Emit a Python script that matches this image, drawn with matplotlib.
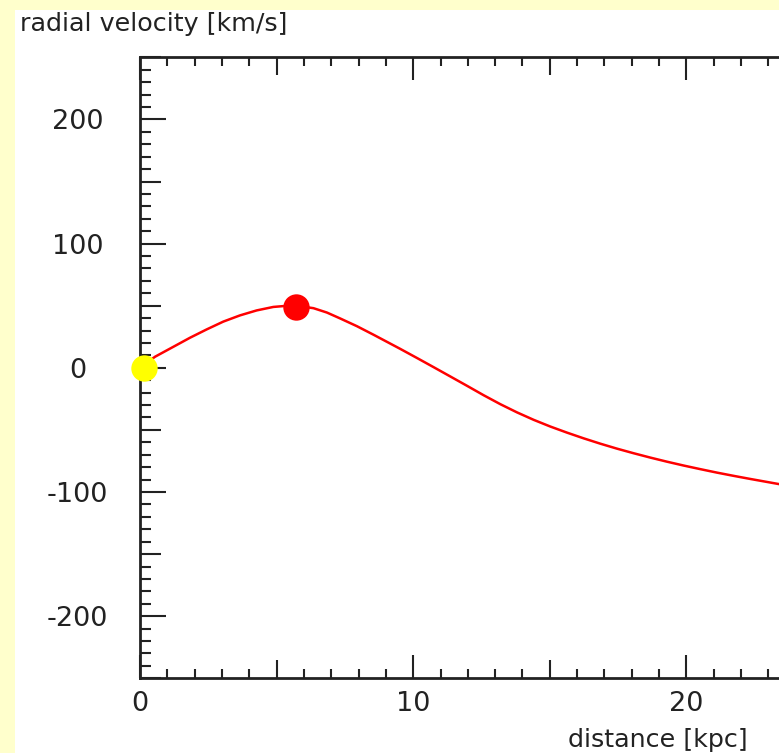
import matplotlib
matplotlib.use("Agg")
import matplotlib.pyplot as plt
from matplotlib.patches import Rectangle
from matplotlib.ticker import MultipleLocator, FuncFormatter

# rotation curve (distance in kpc, radial velocity in km/s)
distance = [0.0, 0.55, 1.22, 1.83, 2.44, 3.05, 3.66, 4.27, 4.88, 5.37, 5.85,
            6.35, 6.84, 7.33, 7.94, 8.55, 9.16, 9.52, 10.13, 10.74, 11.36,
            11.97, 12.58, 13.19, 13.80, 14.41, 15.02, 15.63, 16.24, 16.85,
            17.46, 18.07, 18.68, 19.29, 19.90, 20.51, 21.12, 21.73, 22.34,
            22.95, 23.38]
velocity = [0.0, 8.9, 16.9, 24.2, 30.9, 37.2, 42.2, 46.2, 49.0, 49.9, 49.6,
            48.0, 44.5, 39.7, 33.5, 26.6, 19.5, 15.3, 8.0, 0.6, -7.0,
            -14.5, -22.1, -29.3, -35.9, -41.9, -47.3, -52.2, -56.8, -61.1,
            -65.1, -68.8, -72.3, -75.6, -78.7, -81.6, -84.4, -87.0, -89.5,
            -91.9, -93.6]

# marked points
observer = (0.15, 0.0)
peak = (5.7, 49.0)

x_labels = [0, 10, 20]
y_labels = [-200, -100, 0, 100, 200]

W, H = 779, 753
BG = "#FFFFCC"
INK = "#222222"

plt.rcParams["font.family"] = "DejaVu Sans"

fig = plt.figure(figsize=(W / 100, H / 100), dpi=100)
fig.patch.set_facecolor(BG)

# white drawing panel, behind the axes
fig.patches.append(Rectangle((15 / W, 0), 1, 1 - 10 / H, transform=fig.transFigure,
                             facecolor="white", edgecolor="none", zorder=-1))

# axes run past the right edge of the picture, as in the reference
ax = fig.add_axes([140 / W, 74.7 / H, 683 / W, 621 / H])
ax.set_facecolor("white")
ax.set_xlim(0, 25)
ax.set_ylim(-250, 250)

ax.plot(distance, velocity, color="#FF0000", lw=1.8, zorder=3,
        solid_joinstyle="round")
ax.plot(*peak, "o", color="#FF0000", ms=19, mec="none", zorder=4)
ax.plot(*observer, "o", color="#FFFF00", ms=19, mec="none", zorder=5, clip_on=False)

for side in ["left", "top", "bottom", "right"]:
    ax.spines[side].set_linewidth(2.0)
    ax.spines[side].set_color(INK)

# x ticks: long at 10s, medium at 5s, short every 1
ax.xaxis.set_major_locator(MultipleLocator(5))
ax.xaxis.set_minor_locator(MultipleLocator(1))
ax.xaxis.set_major_formatter(FuncFormatter(lambda v, p: f"{v:.0f}" if round(v) in x_labels else ""))
ax.tick_params(axis="x", which="both", direction="in", top=True, bottom=True,
               color=INK, width=1.5, labelsize=19.5, pad=9, labelcolor=INK)
ax.tick_params(axis="x", which="major", length=13)
ax.tick_params(axis="x", which="minor", length=6.5)

# y ticks: long at 100s, medium at 50s, short every 10
ax.yaxis.set_major_locator(MultipleLocator(50))
ax.yaxis.set_minor_locator(MultipleLocator(10))
ax.yaxis.set_major_formatter(FuncFormatter(lambda v, p: f"{v:.0f}" if round(v) in y_labels else ""))
ax.tick_params(axis="y", which="both", direction="in", left=True, right=False,
               color=INK, width=1.5, labelsize=19.5, pad=45, labelcolor=INK)
ax.tick_params(axis="y", which="major", length=15)
ax.tick_params(axis="y", which="minor", length=8)

fig.canvas.draw()
for t in ax.xaxis.get_major_ticks():
    if round(t.get_loc()) % 10 == 0:
        t.tick1line.set_markersize(16.5)
        t.tick2line.set_markersize(16.5)
for t in ax.yaxis.get_major_ticks():
    if round(t.get_loc()) % 100 == 0:
        t.tick1line.set_markersize(19)
for lab in ax.get_yticklabels():
    lab.set_horizontalalignment("center")

fig.text(20 / W, 1 - 31.5 / H, "radial velocity [km/s]", fontsize=18.3,
         color=INK, va="baseline", ha="left")
fig.text(748 / W, (H - 746.7) / H, "distance [kpc]", fontsize=18.3,
         color=INK, va="baseline", ha="right")

fig.savefig("out.png", dpi=100, facecolor=BG)
